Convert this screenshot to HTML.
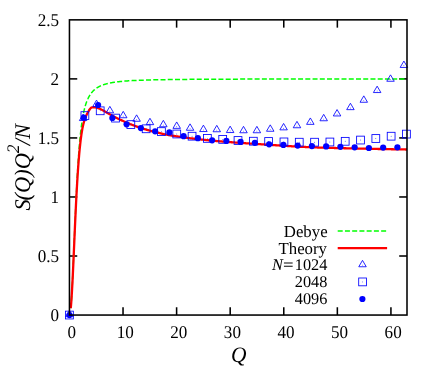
<!DOCTYPE html>
<html><head><meta charset="utf-8"><title>S(Q)Q^2/N</title>
<style>
html,body{margin:0;padding:0;background:#fff;}
body{width:436px;height:366px;position:relative;overflow:hidden;font-family:"Liberation Serif",serif;}
text{font-family:"Liberation Serif",serif;fill:#000;text-rendering:geometricPrecision;}
.w{font-size:16.8px !important;}
.tk{font-size:17.1px !important;}
.t16 text{font-size:16.3px;}
.t20 text{font-size:21.4px;font-style:italic;}
.sup{font-size:17.5px !important;}
.yl{font-size:22.4px !important;}
.it{font-style:italic;}
</style></head><body>
<svg width="436" height="366" viewBox="0 0 436 366" style="position:absolute;left:0;top:0;will-change:transform"><g stroke="#000" stroke-width="1.55" fill="none" stroke-linecap="butt"><path d="M123.03,315.05 V307.25"/><path d="M123.03,19.85 V27.650000000000002"/><path d="M176.61,315.05 V307.25"/><path d="M176.61,19.85 V27.650000000000002"/><path d="M230.19,315.05 V307.25"/><path d="M230.19,19.85 V27.650000000000002"/><path d="M283.77,315.05 V307.25"/><path d="M283.77,19.85 V27.650000000000002"/><path d="M337.35,315.05 V307.25"/><path d="M337.35,19.85 V27.650000000000002"/><path d="M390.93,315.05 V307.25"/><path d="M390.93,19.85 V27.650000000000002"/><path d="M69.45,256.01 H77.25"/><path d="M407.0,256.01 H399.2"/><path d="M69.45,196.97 H77.25"/><path d="M407.0,196.97 H399.2"/><path d="M69.45,137.93 H77.25"/><path d="M407.0,137.93 H399.2"/><path d="M69.45,78.89 H77.25"/><path d="M407.0,78.89 H399.2"/></g><path d="M70.76,308.10 L70.93,306.27 L71.10,304.24 L71.26,302.03 L71.43,299.63 L71.60,297.06 L71.76,294.33 L71.93,291.45 L72.10,288.43 L72.26,285.27 L72.43,281.99 L72.60,278.59 L72.77,275.10 L72.93,271.52 L73.10,267.85 L73.27,264.12 L73.43,260.33 L73.60,256.49 L73.77,252.62 L73.93,248.72 L74.10,244.80 L74.27,240.87 L74.43,236.94 L74.60,233.02 L74.77,229.11 L74.93,225.23 L75.10,221.38 L75.27,217.57 L75.44,213.81 L75.60,210.09 L75.77,206.43 L75.94,202.83 L76.10,199.29 L76.27,195.82 L76.44,192.42 L76.60,189.10 L76.77,185.85 L76.94,182.67 L77.10,179.58 L77.27,176.57 L77.44,173.64 L77.60,170.79 L77.77,168.02 L77.94,165.34 L78.11,162.73 L78.27,160.21 L78.44,157.77 L78.61,155.41 L78.77,153.12 L78.94,150.91 L79.11,148.77 L79.27,146.71 L79.44,144.72 L79.61,142.80 L79.77,140.95 L79.94,139.16 L80.11,137.44 L80.27,135.78 L80.44,134.17 L80.61,132.63 L80.77,131.14 L80.94,129.71 L81.11,128.33 L81.28,127.00 L81.44,125.72 L81.61,124.48 L81.78,123.29 L81.94,122.14 L82.11,121.03 L82.28,119.96 L82.44,118.93 L82.61,117.94 L82.78,116.98 L82.94,116.06 L83.11,115.16 L83.28,114.30 L83.44,113.47 L83.61,112.66 L83.78,111.89 L83.95,111.13 L84.11,110.41 L84.28,109.70 L84.45,109.03 L84.61,108.37 L84.78,107.73 L84.95,107.11 L85.11,106.52 L85.28,105.94 L85.45,105.38 L85.61,104.83 L85.78,104.31 L85.95,103.80 L86.11,103.30 L86.28,102.82 L86.45,102.35 L86.62,101.90 L86.78,101.46 L86.95,101.03 L87.12,100.61 L87.28,100.21 L87.45,99.81 L87.62,99.43 L87.78,99.06 L87.95,98.70 L88.12,98.35 L88.28,98.00 L88.45,97.67 L88.62,97.34 L88.78,97.03 L88.95,96.72 L89.12,96.42 L89.29,96.12 L89.45,95.84 L89.62,95.56 L89.79,95.28 L89.95,95.02 L90.12,94.76 L90.29,94.51 L90.45,94.26 L90.62,94.02 L90.79,93.78 L90.95,93.55 L91.12,93.33 L91.29,93.11 L91.45,92.89 L91.62,92.68 L91.79,92.48 L91.96,92.28 L92.12,92.08 L92.29,91.89 L92.46,91.70 L92.62,91.52 L92.79,91.34 L92.96,91.16 L93.12,90.99 L93.29,90.82 L93.46,90.65 L93.62,90.49 L93.79,90.33 L93.96,90.18 L94.12,90.03 L94.29,89.88 L94.46,89.73 L94.63,89.59 L94.79,89.45 L94.96,89.31 L95.13,89.17 L95.29,89.04 L95.46,88.91 L95.63,88.78 L95.79,88.66 L95.96,88.54 L96.13,88.42 L96.29,88.30 L96.46,88.18 L96.63,88.07 L96.79,87.96 L96.96,87.85 L97.13,87.74 L97.30,87.63 L97.46,87.53 L97.63,87.43 L97.80,87.33 L97.96,87.23 L98.13,87.13 L98.30,87.04 L98.46,86.94 L98.63,86.85 L98.80,86.76 L98.96,86.67 L99.13,86.59 L99.30,86.50 L99.46,86.42 L99.63,86.33 L99.80,86.25 L99.97,86.17 L100.13,86.09 L100.30,86.01 L100.47,85.94 L100.63,85.86 L100.80,85.79 L100.97,85.72 L101.13,85.64 L101.30,85.57 L101.47,85.50 L101.63,85.44 L101.80,85.37 L101.97,85.30 L102.13,85.24 L102.30,85.17 L102.47,85.11 L102.63,85.05 L102.80,84.98 L102.97,84.92 L103.14,84.86 L103.30,84.81 L103.47,84.75 L103.64,84.69 L103.80,84.63 L103.97,84.58 L104.14,84.52 L104.30,84.47 L104.47,84.42 L104.64,84.37 L104.80,84.31 L104.97,84.26 L105.14,84.21 L105.30,84.16 L105.47,84.11 L105.64,84.07 L105.81,84.02 L105.97,83.97 L106.14,83.93 L106.31,83.88 L106.47,83.84 L106.64,83.79 L106.81,83.75 L106.97,83.70 L107.14,83.66 L107.31,83.62 L107.47,83.58 L107.64,83.54 L107.81,83.50 L107.97,83.46 L108.14,83.42 L108.31,83.38 L108.48,83.34 L108.64,83.30 L108.81,83.27 L108.98,83.23 L109.14,83.19 L109.31,83.16 L109.48,83.12 L109.64,83.09 L109.81,83.05 L109.98,83.02 L110.14,82.98 L110.31,82.95 L110.48,82.92 L110.64,82.89 L110.81,82.85 L110.98,82.82 L111.15,82.79 L111.31,82.76 L111.48,82.73 L111.65,82.70 L111.81,82.67 L111.98,82.64 L112.15,82.61 L112.31,82.58 L112.81,82.50 L113.30,82.42 L113.79,82.34 L114.28,82.26 L114.77,82.19 L115.27,82.12 L115.76,82.05 L116.25,81.99 L116.74,81.92 L117.23,81.86 L117.73,81.80 L118.22,81.74 L118.71,81.68 L119.20,81.63 L119.69,81.58 L120.18,81.52 L120.68,81.47 L121.17,81.42 L121.66,81.38 L122.15,81.33 L122.64,81.29 L123.14,81.24 L123.63,81.20 L124.12,81.16 L124.61,81.12 L125.10,81.08 L125.60,81.04 L126.09,81.00 L126.58,80.97 L127.07,80.93 L127.56,80.90 L128.06,80.86 L128.55,80.83 L129.04,80.80 L129.53,80.77 L130.02,80.74 L130.52,80.71 L131.01,80.68 L131.50,80.65 L131.99,80.62 L132.48,80.60 L132.98,80.57 L133.47,80.54 L133.96,80.52 L134.45,80.49 L134.94,80.47 L135.44,80.45 L135.93,80.42 L136.42,80.40 L136.91,80.38 L137.40,80.36 L137.90,80.34 L138.39,80.32 L138.88,80.30 L139.37,80.28 L139.86,80.26 L140.36,80.24 L140.85,80.22 L141.34,80.20 L141.83,80.18 L142.32,80.17 L142.82,80.15 L143.31,80.13 L143.80,80.12 L144.29,80.10 L144.78,80.08 L145.28,80.07 L145.77,80.05 L146.26,80.04 L146.75,80.02 L147.24,80.01 L147.73,80.00 L148.23,79.98 L148.72,79.97 L149.21,79.96 L149.70,79.94 L150.19,79.93 L150.69,79.92 L151.18,79.90 L151.67,79.89 L152.16,79.88 L152.65,79.87 L153.15,79.86 L153.64,79.85 L154.13,79.84 L154.62,79.82 L155.11,79.81 L155.61,79.80 L156.10,79.79 L156.59,79.78 L157.08,79.77 L157.57,79.76 L158.07,79.75 L158.56,79.74 L159.05,79.73 L159.54,79.73 L160.03,79.72 L160.53,79.71 L161.02,79.70 L161.51,79.69 L162.00,79.68 L162.49,79.67 L162.99,79.66 L163.48,79.66 L163.97,79.65 L164.46,79.64 L164.95,79.63 L165.45,79.63 L165.94,79.62 L166.43,79.61 L166.92,79.60 L167.41,79.60 L167.91,79.59 L168.40,79.58 L168.89,79.58 L169.38,79.57 L169.87,79.56 L170.37,79.56 L170.86,79.55 L171.35,79.54 L171.84,79.54 L172.33,79.53 L172.83,79.52 L173.32,79.52 L173.81,79.51 L174.30,79.51 L174.79,79.50 L175.28,79.50 L175.78,79.49 L176.27,79.48 L176.76,79.48 L177.25,79.47 L177.74,79.47 L178.24,79.46 L178.73,79.46 L179.22,79.45 L179.71,79.45 L180.20,79.44 L180.70,79.44 L181.19,79.43 L181.68,79.43 L182.17,79.42 L182.66,79.42 L183.16,79.41 L183.65,79.41 L184.14,79.41 L184.63,79.40 L185.12,79.40 L185.62,79.39 L186.11,79.39 L186.60,79.38 L187.09,79.38 L187.58,79.38 L188.08,79.37 L188.57,79.37 L189.06,79.36 L189.55,79.36 L190.04,79.36 L190.54,79.35 L191.03,79.35 L191.52,79.34 L192.01,79.34 L192.50,79.34 L193.00,79.33 L193.49,79.33 L193.98,79.33 L194.47,79.32 L194.96,79.32 L195.46,79.32 L195.95,79.31 L196.44,79.31 L196.93,79.31 L197.42,79.30 L197.92,79.30 L198.41,79.30 L198.90,79.29 L199.39,79.29 L199.88,79.29 L200.38,79.29 L200.87,79.28 L201.36,79.28 L201.85,79.28 L202.34,79.27 L202.83,79.27 L203.33,79.27 L203.82,79.27 L204.31,79.26 L204.80,79.26 L205.29,79.26 L205.79,79.25 L206.28,79.25 L206.77,79.25 L207.26,79.25 L207.75,79.24 L208.25,79.24 L208.74,79.24 L209.23,79.24 L209.72,79.23 L210.21,79.23 L210.71,79.23 L211.20,79.23 L211.69,79.23 L212.18,79.22 L212.67,79.22 L213.17,79.22 L213.66,79.22 L214.15,79.21 L214.64,79.21 L215.13,79.21 L215.63,79.21 L216.12,79.21 L216.61,79.20 L217.10,79.20 L217.59,79.20 L218.09,79.20 L218.58,79.19 L219.07,79.19 L219.56,79.19 L220.05,79.19 L220.55,79.19 L221.04,79.19 L221.53,79.18 L222.02,79.18 L222.51,79.18 L223.01,79.18 L223.50,79.18 L223.99,79.17 L224.48,79.17 L224.97,79.17 L225.47,79.17 L225.96,79.17 L226.45,79.17 L226.94,79.16 L227.43,79.16 L227.93,79.16 L228.42,79.16 L228.91,79.16 L229.40,79.15 L229.89,79.15 L230.38,79.15 L230.88,79.15 L231.37,79.15 L231.86,79.15 L232.35,79.15 L232.84,79.14 L233.34,79.14 L233.83,79.14 L234.32,79.14 L234.81,79.14 L235.30,79.14 L235.80,79.14 L236.29,79.13 L236.78,79.13 L237.27,79.13 L237.76,79.13 L238.26,79.13 L238.75,79.13 L239.24,79.13 L239.73,79.12 L240.22,79.12 L240.72,79.12 L241.21,79.12 L241.70,79.12 L242.19,79.12 L242.68,79.12 L243.18,79.11 L243.67,79.11 L244.16,79.11 L244.65,79.11 L245.14,79.11 L245.64,79.11 L246.13,79.11 L246.62,79.11 L247.11,79.10 L247.60,79.10 L248.10,79.10 L248.59,79.10 L249.08,79.10 L249.57,79.10 L250.06,79.10 L250.56,79.10 L251.05,79.10 L251.54,79.09 L252.03,79.09 L252.52,79.09 L253.02,79.09 L253.51,79.09 L254.00,79.09 L254.49,79.09 L254.98,79.09 L255.48,79.09 L255.97,79.08 L256.46,79.08 L256.95,79.08 L257.44,79.08 L257.93,79.08 L258.43,79.08 L258.92,79.08 L259.41,79.08 L259.90,79.08 L260.39,79.08 L260.89,79.07 L261.38,79.07 L261.87,79.07 L262.36,79.07 L262.85,79.07 L263.35,79.07 L263.84,79.07 L264.33,79.07 L264.82,79.07 L265.31,79.07 L265.81,79.07 L266.30,79.06 L266.79,79.06 L267.28,79.06 L267.77,79.06 L268.27,79.06 L268.76,79.06 L269.25,79.06 L269.74,79.06 L270.23,79.06 L270.73,79.06 L271.22,79.06 L271.71,79.06 L272.20,79.05 L272.69,79.05 L273.19,79.05 L273.68,79.05 L274.17,79.05 L274.66,79.05 L275.15,79.05 L275.65,79.05 L276.14,79.05 L276.63,79.05 L277.12,79.05 L277.61,79.05 L278.11,79.05 L278.60,79.04 L279.09,79.04 L279.58,79.04 L280.07,79.04 L280.57,79.04 L281.06,79.04 L281.55,79.04 L282.04,79.04 L282.53,79.04 L283.03,79.04 L283.52,79.04 L284.01,79.04 L284.50,79.04 L284.99,79.04 L285.48,79.04 L285.98,79.03 L286.47,79.03 L286.96,79.03 L287.45,79.03 L287.94,79.03 L288.44,79.03 L288.93,79.03 L289.42,79.03 L289.91,79.03 L290.40,79.03 L290.90,79.03 L291.39,79.03 L291.88,79.03 L292.37,79.03 L292.86,79.03 L293.36,79.03 L293.85,79.02 L294.34,79.02 L294.83,79.02 L295.32,79.02 L295.82,79.02 L296.31,79.02 L296.80,79.02 L297.29,79.02 L297.78,79.02 L298.28,79.02 L298.77,79.02 L299.26,79.02 L299.75,79.02 L300.24,79.02 L300.74,79.02 L301.23,79.02 L301.72,79.02 L302.21,79.02 L302.70,79.01 L303.20,79.01 L303.69,79.01 L304.18,79.01 L304.67,79.01 L305.16,79.01 L305.66,79.01 L306.15,79.01 L306.64,79.01 L307.13,79.01 L307.62,79.01 L308.12,79.01 L308.61,79.01 L309.10,79.01 L309.59,79.01 L310.08,79.01 L310.58,79.01 L311.07,79.01 L311.56,79.01 L312.05,79.01 L312.54,79.00 L313.03,79.00 L313.53,79.00 L314.02,79.00 L314.51,79.00 L315.00,79.00 L315.49,79.00 L315.99,79.00 L316.48,79.00 L316.97,79.00 L317.46,79.00 L317.95,79.00 L318.45,79.00 L318.94,79.00 L319.43,79.00 L319.92,79.00 L320.41,79.00 L320.91,79.00 L321.40,79.00 L321.89,79.00 L322.38,79.00 L322.87,79.00 L323.37,79.00 L323.86,78.99 L324.35,78.99 L324.84,78.99 L325.33,78.99 L325.83,78.99 L326.32,78.99 L326.81,78.99 L327.30,78.99 L327.79,78.99 L328.29,78.99 L328.78,78.99 L329.27,78.99 L329.76,78.99 L330.25,78.99 L330.75,78.99 L331.24,78.99 L331.73,78.99 L332.22,78.99 L332.71,78.99 L333.21,78.99 L333.70,78.99 L334.19,78.99 L334.68,78.99 L335.17,78.99 L335.67,78.99 L336.16,78.99 L336.65,78.98 L337.14,78.98 L337.63,78.98 L338.13,78.98 L338.62,78.98 L339.11,78.98 L339.60,78.98 L340.09,78.98 L340.58,78.98 L341.08,78.98 L341.57,78.98 L342.06,78.98 L342.55,78.98 L343.04,78.98 L343.54,78.98 L344.03,78.98 L344.52,78.98 L345.01,78.98 L345.50,78.98 L346.00,78.98 L346.49,78.98 L346.98,78.98 L347.47,78.98 L347.96,78.98 L348.46,78.98 L348.95,78.98 L349.44,78.98 L349.93,78.98 L350.42,78.98 L350.92,78.98 L351.41,78.98 L351.90,78.97 L352.39,78.97 L352.88,78.97 L353.38,78.97 L353.87,78.97 L354.36,78.97 L354.85,78.97 L355.34,78.97 L355.84,78.97 L356.33,78.97 L356.82,78.97 L357.31,78.97 L357.80,78.97 L358.30,78.97 L358.79,78.97 L359.28,78.97 L359.77,78.97 L360.26,78.97 L360.76,78.97 L361.25,78.97 L361.74,78.97 L362.23,78.97 L362.72,78.97 L363.22,78.97 L363.71,78.97 L364.20,78.97 L364.69,78.97 L365.18,78.97 L365.68,78.97 L366.17,78.97 L366.66,78.97 L367.15,78.97 L367.64,78.97 L368.13,78.97 L368.63,78.97 L369.12,78.97 L369.61,78.97 L370.10,78.97 L370.59,78.96 L371.09,78.96 L371.58,78.96 L372.07,78.96 L372.56,78.96 L373.05,78.96 L373.55,78.96 L374.04,78.96 L374.53,78.96 L375.02,78.96 L375.51,78.96 L376.01,78.96 L376.50,78.96 L376.99,78.96 L377.48,78.96 L377.97,78.96 L378.47,78.96 L378.96,78.96 L379.45,78.96 L379.94,78.96 L380.43,78.96 L380.93,78.96 L381.42,78.96 L381.91,78.96 L382.40,78.96 L382.89,78.96 L383.39,78.96 L383.88,78.96 L384.37,78.96 L384.86,78.96 L385.35,78.96 L385.85,78.96 L386.34,78.96 L386.83,78.96 L387.32,78.96 L387.81,78.96 L388.31,78.96 L388.80,78.96 L389.29,78.96 L389.78,78.96 L390.27,78.96 L390.77,78.96 L391.26,78.96 L391.75,78.96 L392.24,78.96 L392.73,78.95 L393.23,78.95 L393.72,78.95 L394.21,78.95 L394.70,78.95 L395.19,78.95 L395.68,78.95 L396.18,78.95 L396.67,78.95 L397.16,78.95 L397.65,78.95 L398.14,78.95 L398.64,78.95 L399.13,78.95 L399.62,78.95 L400.11,78.95 L400.60,78.95 L401.10,78.95 L401.59,78.95 L402.08,78.95 L402.57,78.95 L403.06,78.95 L403.56,78.95 L404.05,78.95 L404.54,78.95 L405.03,78.95 L405.52,78.95 L406.02,78.95 L406.51,78.95 L407.00,78.95" fill="none" stroke="#00ff00" stroke-width="1.5" stroke-dasharray="5 2.24"/><path d="M70.76,308.24 L70.93,306.44 L71.10,304.45 L71.26,302.28 L71.43,299.93 L71.60,297.41 L71.76,294.73 L71.93,291.91 L72.10,288.94 L72.26,285.84 L72.43,282.62 L72.60,279.30 L72.77,275.87 L72.93,272.36 L73.10,268.77 L73.27,265.12 L73.43,261.40 L73.60,257.64 L73.77,253.85 L73.93,250.03 L74.10,246.19 L74.27,242.35 L74.43,238.51 L74.60,234.68 L74.77,230.86 L74.93,227.08 L75.10,223.35 L75.27,219.68 L75.44,216.06 L75.60,212.52 L75.77,209.04 L75.94,205.63 L76.10,202.29 L76.27,199.03 L76.44,195.85 L76.60,192.74 L76.77,189.70 L76.94,186.74 L77.10,183.86 L77.27,181.05 L77.44,178.31 L77.60,175.64 L77.77,173.06 L77.94,170.57 L78.11,168.16 L78.27,165.83 L78.44,163.58 L78.61,161.41 L78.77,159.32 L78.94,157.30 L79.11,155.35 L79.27,153.47 L79.44,151.67 L79.61,149.92 L79.77,148.24 L79.94,146.62 L80.11,145.06 L80.27,143.55 L80.44,142.09 L80.61,140.69 L80.77,139.34 L80.94,138.04 L81.11,136.79 L81.28,135.58 L81.44,134.42 L81.61,133.31 L81.78,132.24 L81.94,131.22 L82.11,130.24 L82.28,129.30 L82.44,128.40 L82.61,127.54 L82.78,126.72 L82.94,125.94 L83.11,125.21 L83.28,124.51 L83.44,123.84 L83.61,123.21 L83.78,122.60 L83.95,122.02 L84.11,121.46 L84.28,120.92 L84.45,120.40 L84.61,119.89 L84.78,119.38 L84.95,118.89 L85.11,118.42 L85.28,117.96 L85.45,117.51 L85.61,117.08 L85.78,116.67 L85.95,116.26 L86.11,115.87 L86.28,115.48 L86.45,115.11 L86.62,114.75 L86.78,114.40 L86.95,114.05 L87.12,113.71 L87.28,113.38 L87.45,113.06 L87.62,112.75 L87.78,112.44 L87.95,112.14 L88.12,111.85 L88.28,111.56 L88.45,111.29 L88.62,111.02 L88.78,110.75 L88.95,110.50 L89.12,110.25 L89.29,110.00 L89.45,109.76 L89.62,109.52 L89.79,109.28 L89.95,109.06 L90.12,108.84 L90.29,108.63 L90.45,108.43 L90.62,108.24 L90.79,108.06 L90.95,107.90 L91.12,107.77 L91.29,107.66 L91.45,107.58 L91.62,107.51 L91.79,107.46 L91.96,107.42 L92.12,107.39 L92.29,107.37 L92.46,107.35 L92.62,107.34 L92.79,107.32 L92.96,107.31 L93.12,107.29 L93.29,107.27 L93.46,107.26 L93.62,107.26 L93.79,107.26 L93.96,107.26 L94.12,107.27 L94.29,107.28 L94.46,107.29 L94.63,107.31 L94.79,107.33 L94.96,107.35 L95.13,107.37 L95.29,107.40 L95.46,107.43 L95.63,107.45 L95.79,107.49 L95.96,107.52 L96.13,107.56 L96.29,107.59 L96.46,107.64 L96.63,107.68 L96.79,107.72 L96.96,107.77 L97.13,107.82 L97.30,107.87 L97.46,107.92 L97.63,107.97 L97.80,108.03 L97.96,108.09 L98.13,108.14 L98.30,108.20 L98.46,108.27 L98.63,108.33 L98.80,108.39 L98.96,108.46 L99.13,108.53 L99.30,108.60 L99.46,108.67 L99.63,108.74 L99.80,108.81 L99.97,108.88 L100.13,108.96 L100.30,109.03 L100.47,109.11 L100.63,109.18 L100.80,109.26 L100.97,109.34 L101.13,109.42 L101.30,109.50 L101.47,109.58 L101.63,109.67 L101.80,109.75 L101.97,109.84 L102.13,109.92 L102.30,110.01 L102.47,110.10 L102.63,110.19 L102.80,110.28 L102.97,110.37 L103.14,110.46 L103.30,110.56 L103.47,110.65 L103.64,110.74 L103.80,110.84 L103.97,110.94 L104.14,111.03 L104.30,111.13 L104.47,111.23 L104.64,111.32 L104.80,111.42 L104.97,111.52 L105.14,111.62 L105.30,111.72 L105.47,111.82 L105.64,111.92 L105.81,112.01 L105.97,112.11 L106.14,112.21 L106.31,112.31 L106.47,112.41 L106.64,112.50 L106.81,112.60 L106.97,112.70 L107.14,112.80 L107.31,112.89 L107.47,112.99 L107.64,113.08 L107.81,113.18 L107.97,113.27 L108.14,113.36 L108.31,113.46 L108.48,113.55 L108.64,113.64 L108.81,113.74 L108.98,113.83 L109.14,113.93 L109.31,114.02 L109.48,114.11 L109.64,114.20 L109.81,114.30 L109.98,114.39 L110.14,114.48 L110.31,114.58 L110.48,114.67 L110.64,114.76 L110.81,114.85 L110.98,114.95 L111.15,115.04 L111.31,115.13 L111.48,115.22 L111.65,115.31 L111.81,115.40 L111.98,115.49 L112.15,115.59 L112.31,115.68 L112.81,115.94 L113.30,116.20 L113.79,116.47 L114.28,116.73 L114.77,116.98 L115.27,117.24 L115.76,117.49 L116.25,117.74 L116.74,117.99 L117.23,118.24 L117.73,118.49 L118.22,118.73 L118.71,118.97 L119.20,119.21 L119.69,119.45 L120.18,119.68 L120.68,119.92 L121.17,120.15 L121.66,120.37 L122.15,120.60 L122.64,120.82 L123.14,121.04 L123.63,121.26 L124.12,121.48 L124.61,121.69 L125.10,121.91 L125.60,122.12 L126.09,122.34 L126.58,122.55 L127.07,122.76 L127.56,122.97 L128.06,123.18 L128.55,123.39 L129.04,123.59 L129.53,123.79 L130.02,124.00 L130.52,124.20 L131.01,124.39 L131.50,124.59 L131.99,124.78 L132.48,124.98 L132.98,125.17 L133.47,125.35 L133.96,125.54 L134.45,125.72 L134.94,125.91 L135.44,126.09 L135.93,126.26 L136.42,126.44 L136.91,126.62 L137.40,126.79 L137.90,126.96 L138.39,127.13 L138.88,127.30 L139.37,127.47 L139.86,127.63 L140.36,127.80 L140.85,127.96 L141.34,128.12 L141.83,128.28 L142.32,128.44 L142.82,128.60 L143.31,128.75 L143.80,128.91 L144.29,129.06 L144.78,129.21 L145.28,129.36 L145.77,129.51 L146.26,129.65 L146.75,129.80 L147.24,129.94 L147.73,130.08 L148.23,130.22 L148.72,130.36 L149.21,130.49 L149.70,130.63 L150.19,130.76 L150.69,130.89 L151.18,131.02 L151.67,131.15 L152.16,131.27 L152.65,131.40 L153.15,131.52 L153.64,131.64 L154.13,131.77 L154.62,131.89 L155.11,132.01 L155.61,132.13 L156.10,132.25 L156.59,132.37 L157.08,132.49 L157.57,132.61 L158.07,132.73 L158.56,132.85 L159.05,132.97 L159.54,133.09 L160.03,133.21 L160.53,133.33 L161.02,133.46 L161.51,133.59 L162.00,133.71 L162.49,133.84 L162.99,133.96 L163.48,134.08 L163.97,134.19 L164.46,134.30 L164.95,134.39 L165.45,134.48 L165.94,134.57 L166.43,134.66 L166.92,134.74 L167.41,134.83 L167.91,134.92 L168.40,135.00 L168.89,135.09 L169.38,135.17 L169.87,135.25 L170.37,135.34 L170.86,135.42 L171.35,135.50 L171.84,135.58 L172.33,135.66 L172.83,135.74 L173.32,135.82 L173.81,135.90 L174.30,135.98 L174.79,136.06 L175.28,136.13 L175.78,136.21 L176.27,136.29 L176.76,136.36 L177.25,136.44 L177.74,136.51 L178.24,136.59 L178.73,136.66 L179.22,136.73 L179.71,136.80 L180.20,136.88 L180.70,136.95 L181.19,137.02 L181.68,137.09 L182.17,137.16 L182.66,137.23 L183.16,137.30 L183.65,137.36 L184.14,137.43 L184.63,137.50 L185.12,137.57 L185.62,137.63 L186.11,137.70 L186.60,137.76 L187.09,137.83 L187.58,137.89 L188.08,137.96 L188.57,138.02 L189.06,138.08 L189.55,138.14 L190.04,138.21 L190.54,138.27 L191.03,138.33 L191.52,138.39 L192.01,138.45 L192.50,138.51 L193.00,138.57 L193.49,138.63 L193.98,138.69 L194.47,138.75 L194.96,138.80 L195.46,138.86 L195.95,138.92 L196.44,138.98 L196.93,139.03 L197.42,139.09 L197.92,139.14 L198.41,139.20 L198.90,139.25 L199.39,139.31 L199.88,139.36 L200.38,139.42 L200.87,139.47 L201.36,139.52 L201.85,139.58 L202.34,139.63 L202.83,139.68 L203.33,139.73 L203.82,139.79 L204.31,139.84 L204.80,139.89 L205.29,139.94 L205.79,139.99 L206.28,140.04 L206.77,140.09 L207.26,140.14 L207.75,140.19 L208.25,140.24 L208.74,140.29 L209.23,140.33 L209.72,140.38 L210.21,140.43 L210.71,140.48 L211.20,140.53 L211.69,140.57 L212.18,140.62 L212.67,140.67 L213.17,140.71 L213.66,140.76 L214.15,140.80 L214.64,140.85 L215.13,140.90 L215.63,140.94 L216.12,140.99 L216.61,141.03 L217.10,141.07 L217.59,141.12 L218.09,141.16 L218.58,141.20 L219.07,141.25 L219.56,141.29 L220.05,141.33 L220.55,141.37 L221.04,141.42 L221.53,141.46 L222.02,141.50 L222.51,141.54 L223.01,141.58 L223.50,141.62 L223.99,141.66 L224.48,141.70 L224.97,141.74 L225.47,141.78 L225.96,141.82 L226.45,141.86 L226.94,141.90 L227.43,141.94 L227.93,141.97 L228.42,142.01 L228.91,142.05 L229.40,142.09 L229.89,142.13 L230.38,142.16 L230.88,142.20 L231.37,142.24 L231.86,142.27 L232.35,142.31 L232.84,142.35 L233.34,142.38 L233.83,142.42 L234.32,142.46 L234.81,142.49 L235.30,142.53 L235.80,142.56 L236.29,142.60 L236.78,142.63 L237.27,142.67 L237.76,142.70 L238.26,142.74 L238.75,142.77 L239.24,142.81 L239.73,142.84 L240.22,142.87 L240.72,142.91 L241.21,142.94 L241.70,142.98 L242.19,143.01 L242.68,143.04 L243.18,143.08 L243.67,143.11 L244.16,143.14 L244.65,143.18 L245.14,143.21 L245.64,143.24 L246.13,143.28 L246.62,143.31 L247.11,143.34 L247.60,143.37 L248.10,143.41 L248.59,143.44 L249.08,143.47 L249.57,143.50 L250.06,143.54 L250.56,143.57 L251.05,143.60 L251.54,143.63 L252.03,143.67 L252.52,143.70 L253.02,143.73 L253.51,143.76 L254.00,143.79 L254.49,143.83 L254.98,143.86 L255.48,143.89 L255.97,143.92 L256.46,143.95 L256.95,143.99 L257.44,144.02 L257.93,144.05 L258.43,144.08 L258.92,144.12 L259.41,144.15 L259.90,144.18 L260.39,144.21 L260.89,144.24 L261.38,144.28 L261.87,144.31 L262.36,144.34 L262.85,144.37 L263.35,144.41 L263.84,144.44 L264.33,144.47 L264.82,144.50 L265.31,144.54 L265.81,144.57 L266.30,144.60 L266.79,144.63 L267.28,144.67 L267.77,144.70 L268.27,144.73 L268.76,144.77 L269.25,144.80 L269.74,144.83 L270.23,144.87 L270.73,144.90 L271.22,144.93 L271.71,144.97 L272.20,145.00 L272.69,145.03 L273.19,145.07 L273.68,145.10 L274.17,145.13 L274.66,145.16 L275.15,145.20 L275.65,145.23 L276.14,145.26 L276.63,145.30 L277.12,145.33 L277.61,145.36 L278.11,145.40 L278.60,145.43 L279.09,145.46 L279.58,145.49 L280.07,145.53 L280.57,145.56 L281.06,145.59 L281.55,145.62 L282.04,145.66 L282.53,145.69 L283.03,145.72 L283.52,145.75 L284.01,145.78 L284.50,145.82 L284.99,145.85 L285.48,145.88 L285.98,145.91 L286.47,145.94 L286.96,145.97 L287.45,146.00 L287.94,146.03 L288.44,146.06 L288.93,146.10 L289.42,146.13 L289.91,146.16 L290.40,146.19 L290.90,146.22 L291.39,146.25 L291.88,146.28 L292.37,146.30 L292.86,146.33 L293.36,146.36 L293.85,146.39 L294.34,146.42 L294.83,146.45 L295.32,146.48 L295.82,146.51 L296.31,146.53 L296.80,146.56 L297.29,146.59 L297.78,146.61 L298.28,146.64 L298.77,146.67 L299.26,146.69 L299.75,146.72 L300.24,146.75 L300.74,146.77 L301.23,146.80 L301.72,146.82 L302.21,146.85 L302.70,146.87 L303.20,146.90 L303.69,146.92 L304.18,146.95 L304.67,146.97 L305.16,146.99 L305.66,147.01 L306.15,147.04 L306.64,147.06 L307.13,147.08 L307.62,147.10 L308.12,147.12 L308.61,147.15 L309.10,147.17 L309.59,147.19 L310.08,147.21 L310.58,147.23 L311.07,147.25 L311.56,147.26 L312.05,147.28 L312.54,147.30 L313.03,147.32 L313.53,147.34 L314.02,147.36 L314.51,147.37 L315.00,147.39 L315.49,147.41 L315.99,147.42 L316.48,147.44 L316.97,147.46 L317.46,147.48 L317.95,147.49 L318.45,147.51 L318.94,147.53 L319.43,147.54 L319.92,147.56 L320.41,147.57 L320.91,147.59 L321.40,147.61 L321.89,147.62 L322.38,147.64 L322.87,147.65 L323.37,147.67 L323.86,147.68 L324.35,147.70 L324.84,147.71 L325.33,147.73 L325.83,147.74 L326.32,147.76 L326.81,147.77 L327.30,147.79 L327.79,147.80 L328.29,147.81 L328.78,147.83 L329.27,147.84 L329.76,147.86 L330.25,147.87 L330.75,147.88 L331.24,147.90 L331.73,147.91 L332.22,147.93 L332.71,147.94 L333.21,147.95 L333.70,147.97 L334.19,147.98 L334.68,147.99 L335.17,148.00 L335.67,148.02 L336.16,148.03 L336.65,148.04 L337.14,148.06 L337.63,148.07 L338.13,148.08 L338.62,148.09 L339.11,148.11 L339.60,148.12 L340.09,148.13 L340.58,148.14 L341.08,148.15 L341.57,148.17 L342.06,148.18 L342.55,148.19 L343.04,148.20 L343.54,148.21 L344.03,148.23 L344.52,148.24 L345.01,148.25 L345.50,148.26 L346.00,148.27 L346.49,148.28 L346.98,148.30 L347.47,148.31 L347.96,148.32 L348.46,148.33 L348.95,148.34 L349.44,148.35 L349.93,148.36 L350.42,148.38 L350.92,148.39 L351.41,148.40 L351.90,148.41 L352.39,148.42 L352.88,148.43 L353.38,148.44 L353.87,148.45 L354.36,148.46 L354.85,148.48 L355.34,148.49 L355.84,148.50 L356.33,148.51 L356.82,148.52 L357.31,148.53 L357.80,148.54 L358.30,148.55 L358.79,148.56 L359.28,148.57 L359.77,148.58 L360.26,148.60 L360.76,148.61 L361.25,148.62 L361.74,148.63 L362.23,148.64 L362.72,148.65 L363.22,148.66 L363.71,148.67 L364.20,148.68 L364.69,148.69 L365.18,148.70 L365.68,148.71 L366.17,148.73 L366.66,148.74 L367.15,148.75 L367.64,148.76 L368.13,148.77 L368.63,148.78 L369.12,148.79 L369.61,148.80 L370.10,148.81 L370.59,148.82 L371.09,148.83 L371.58,148.84 L372.07,148.85 L372.56,148.86 L373.05,148.87 L373.55,148.88 L374.04,148.89 L374.53,148.90 L375.02,148.91 L375.51,148.93 L376.01,148.94 L376.50,148.95 L376.99,148.96 L377.48,148.97 L377.97,148.98 L378.47,148.99 L378.96,149.00 L379.45,149.01 L379.94,149.02 L380.43,149.03 L380.93,149.03 L381.42,149.04 L381.91,149.05 L382.40,149.06 L382.89,149.07 L383.39,149.08 L383.88,149.09 L384.37,149.10 L384.86,149.11 L385.35,149.12 L385.85,149.13 L386.34,149.14 L386.83,149.15 L387.32,149.16 L387.81,149.17 L388.31,149.18 L388.80,149.19 L389.29,149.20 L389.78,149.21 L390.27,149.21 L390.77,149.22 L391.26,149.23 L391.75,149.24 L392.24,149.25 L392.73,149.26 L393.23,149.27 L393.72,149.28 L394.21,149.29 L394.70,149.29 L395.19,149.30 L395.68,149.31 L396.18,149.32 L396.67,149.33 L397.16,149.34 L397.65,149.35 L398.14,149.35 L398.64,149.36 L399.13,149.37 L399.62,149.38 L400.11,149.39 L400.60,149.40 L401.10,149.40 L401.59,149.41 L402.08,149.42 L402.57,149.43 L403.06,149.44 L403.56,149.45 L404.05,149.45 L404.54,149.46 L405.03,149.47 L405.52,149.48 L406.02,149.48 L406.51,149.49 L407.00,149.50" fill="none" stroke="#ff0000" stroke-width="2.3" stroke-linejoin="round"/><path d="M69.45,310.30 L65.70,316.70 L73.20,316.70 Z" fill="none" stroke="#0000ff" stroke-width="0.85" stroke-linejoin="miter"/><circle cx="69.45" cy="315.05" r="0.45" fill="#0000ff"/><path d="M83.14,114.15 L79.39,120.55 L86.89,120.55 Z" fill="none" stroke="#0000ff" stroke-width="0.85" stroke-linejoin="miter"/><circle cx="83.14" cy="118.90" r="0.45" fill="#0000ff"/><path d="M96.51,100.15 L92.76,106.55 L100.26,106.55 Z" fill="none" stroke="#0000ff" stroke-width="0.85" stroke-linejoin="miter"/><circle cx="96.51" cy="104.90" r="0.45" fill="#0000ff"/><path d="M109.87,106.35 L106.12,112.75 L113.62,112.75 Z" fill="none" stroke="#0000ff" stroke-width="0.85" stroke-linejoin="miter"/><circle cx="109.87" cy="111.10" r="0.45" fill="#0000ff"/><path d="M123.23,111.35 L119.48,117.75 L126.98,117.75 Z" fill="none" stroke="#0000ff" stroke-width="0.85" stroke-linejoin="miter"/><circle cx="123.23" cy="116.10" r="0.45" fill="#0000ff"/><path d="M136.60,114.85 L132.85,121.25 L140.35,121.25 Z" fill="none" stroke="#0000ff" stroke-width="0.85" stroke-linejoin="miter"/><circle cx="136.60" cy="119.60" r="0.45" fill="#0000ff"/><path d="M149.96,118.25 L146.21,124.65 L153.71,124.65 Z" fill="none" stroke="#0000ff" stroke-width="0.85" stroke-linejoin="miter"/><circle cx="149.96" cy="123.00" r="0.45" fill="#0000ff"/><path d="M163.33,120.35 L159.58,126.75 L167.08,126.75 Z" fill="none" stroke="#0000ff" stroke-width="0.85" stroke-linejoin="miter"/><circle cx="163.33" cy="125.10" r="0.45" fill="#0000ff"/><path d="M176.69,121.95 L172.94,128.35 L180.44,128.35 Z" fill="none" stroke="#0000ff" stroke-width="0.85" stroke-linejoin="miter"/><circle cx="176.69" cy="126.70" r="0.45" fill="#0000ff"/><path d="M190.06,123.85 L186.31,130.25 L193.81,130.25 Z" fill="none" stroke="#0000ff" stroke-width="0.85" stroke-linejoin="miter"/><circle cx="190.06" cy="128.60" r="0.45" fill="#0000ff"/><path d="M203.42,125.15 L199.67,131.55 L207.17,131.55 Z" fill="none" stroke="#0000ff" stroke-width="0.85" stroke-linejoin="miter"/><circle cx="203.42" cy="129.90" r="0.45" fill="#0000ff"/><path d="M216.78,125.35 L213.03,131.75 L220.53,131.75 Z" fill="none" stroke="#0000ff" stroke-width="0.85" stroke-linejoin="miter"/><circle cx="216.78" cy="130.10" r="0.45" fill="#0000ff"/><path d="M230.15,126.15 L226.40,132.55 L233.90,132.55 Z" fill="none" stroke="#0000ff" stroke-width="0.85" stroke-linejoin="miter"/><circle cx="230.15" cy="130.90" r="0.45" fill="#0000ff"/><path d="M243.51,126.35 L239.76,132.75 L247.26,132.75 Z" fill="none" stroke="#0000ff" stroke-width="0.85" stroke-linejoin="miter"/><circle cx="243.51" cy="131.10" r="0.45" fill="#0000ff"/><path d="M256.88,126.35 L253.13,132.75 L260.63,132.75 Z" fill="none" stroke="#0000ff" stroke-width="0.85" stroke-linejoin="miter"/><circle cx="256.88" cy="131.10" r="0.45" fill="#0000ff"/><path d="M270.24,124.85 L266.49,131.25 L273.99,131.25 Z" fill="none" stroke="#0000ff" stroke-width="0.85" stroke-linejoin="miter"/><circle cx="270.24" cy="129.60" r="0.45" fill="#0000ff"/><path d="M283.60,123.45 L279.85,129.85 L287.35,129.85 Z" fill="none" stroke="#0000ff" stroke-width="0.85" stroke-linejoin="miter"/><circle cx="283.60" cy="128.20" r="0.45" fill="#0000ff"/><path d="M296.97,121.35 L293.22,127.75 L300.72,127.75 Z" fill="none" stroke="#0000ff" stroke-width="0.85" stroke-linejoin="miter"/><circle cx="296.97" cy="126.10" r="0.45" fill="#0000ff"/><path d="M310.33,117.95 L306.58,124.35 L314.08,124.35 Z" fill="none" stroke="#0000ff" stroke-width="0.85" stroke-linejoin="miter"/><circle cx="310.33" cy="122.70" r="0.45" fill="#0000ff"/><path d="M323.70,114.35 L319.95,120.75 L327.45,120.75 Z" fill="none" stroke="#0000ff" stroke-width="0.85" stroke-linejoin="miter"/><circle cx="323.70" cy="119.10" r="0.45" fill="#0000ff"/><path d="M337.06,109.55 L333.31,115.95 L340.81,115.95 Z" fill="none" stroke="#0000ff" stroke-width="0.85" stroke-linejoin="miter"/><circle cx="337.06" cy="114.30" r="0.45" fill="#0000ff"/><path d="M350.43,103.25 L346.68,109.65 L354.18,109.65 Z" fill="none" stroke="#0000ff" stroke-width="0.85" stroke-linejoin="miter"/><circle cx="350.43" cy="108.00" r="0.45" fill="#0000ff"/><path d="M363.79,95.85 L360.04,102.25 L367.54,102.25 Z" fill="none" stroke="#0000ff" stroke-width="0.85" stroke-linejoin="miter"/><circle cx="363.79" cy="100.60" r="0.45" fill="#0000ff"/><path d="M377.15,86.15 L373.40,92.55 L380.90,92.55 Z" fill="none" stroke="#0000ff" stroke-width="0.85" stroke-linejoin="miter"/><circle cx="377.15" cy="90.90" r="0.45" fill="#0000ff"/><path d="M390.52,74.85 L386.77,81.25 L394.27,81.25 Z" fill="none" stroke="#0000ff" stroke-width="0.85" stroke-linejoin="miter"/><circle cx="390.52" cy="79.60" r="0.45" fill="#0000ff"/><path d="M403.88,61.05 L400.13,67.45 L407.63,67.45 Z" fill="none" stroke="#0000ff" stroke-width="0.85" stroke-linejoin="miter"/><circle cx="403.88" cy="65.80" r="0.45" fill="#0000ff"/><rect x="65.55" y="311.15" width="7.80" height="7.80" fill="none" stroke="#0000ff" stroke-width="0.85"/><circle cx="69.45" cy="315.05" r="0.45" fill="#0000ff"/><rect x="80.99" y="111.70" width="7.80" height="7.80" fill="none" stroke="#0000ff" stroke-width="0.85"/><circle cx="84.89" cy="115.60" r="0.45" fill="#0000ff"/><rect x="96.30" y="106.90" width="7.80" height="7.80" fill="none" stroke="#0000ff" stroke-width="0.85"/><circle cx="100.20" cy="110.80" r="0.45" fill="#0000ff"/><rect x="111.61" y="114.20" width="7.80" height="7.80" fill="none" stroke="#0000ff" stroke-width="0.85"/><circle cx="115.51" cy="118.10" r="0.45" fill="#0000ff"/><rect x="126.93" y="120.70" width="7.80" height="7.80" fill="none" stroke="#0000ff" stroke-width="0.85"/><circle cx="130.83" cy="124.60" r="0.45" fill="#0000ff"/><rect x="142.24" y="124.90" width="7.80" height="7.80" fill="none" stroke="#0000ff" stroke-width="0.85"/><circle cx="146.14" cy="128.80" r="0.45" fill="#0000ff"/><rect x="157.55" y="127.70" width="7.80" height="7.80" fill="none" stroke="#0000ff" stroke-width="0.85"/><circle cx="161.45" cy="131.60" r="0.45" fill="#0000ff"/><rect x="172.86" y="130.10" width="7.80" height="7.80" fill="none" stroke="#0000ff" stroke-width="0.85"/><circle cx="176.76" cy="134.00" r="0.45" fill="#0000ff"/><rect x="188.17" y="132.30" width="7.80" height="7.80" fill="none" stroke="#0000ff" stroke-width="0.85"/><circle cx="192.07" cy="136.20" r="0.45" fill="#0000ff"/><rect x="203.49" y="134.50" width="7.80" height="7.80" fill="none" stroke="#0000ff" stroke-width="0.85"/><circle cx="207.39" cy="138.40" r="0.45" fill="#0000ff"/><rect x="218.80" y="135.50" width="7.80" height="7.80" fill="none" stroke="#0000ff" stroke-width="0.85"/><circle cx="222.70" cy="139.40" r="0.45" fill="#0000ff"/><rect x="234.11" y="136.60" width="7.80" height="7.80" fill="none" stroke="#0000ff" stroke-width="0.85"/><circle cx="238.01" cy="140.50" r="0.45" fill="#0000ff"/><rect x="249.42" y="137.30" width="7.80" height="7.80" fill="none" stroke="#0000ff" stroke-width="0.85"/><circle cx="253.32" cy="141.20" r="0.45" fill="#0000ff"/><rect x="264.74" y="137.60" width="7.80" height="7.80" fill="none" stroke="#0000ff" stroke-width="0.85"/><circle cx="268.64" cy="141.50" r="0.45" fill="#0000ff"/><rect x="280.05" y="138.00" width="7.80" height="7.80" fill="none" stroke="#0000ff" stroke-width="0.85"/><circle cx="283.95" cy="141.90" r="0.45" fill="#0000ff"/><rect x="295.36" y="138.30" width="7.80" height="7.80" fill="none" stroke="#0000ff" stroke-width="0.85"/><circle cx="299.26" cy="142.20" r="0.45" fill="#0000ff"/><rect x="310.67" y="138.30" width="7.80" height="7.80" fill="none" stroke="#0000ff" stroke-width="0.85"/><circle cx="314.57" cy="142.20" r="0.45" fill="#0000ff"/><rect x="325.99" y="138.10" width="7.80" height="7.80" fill="none" stroke="#0000ff" stroke-width="0.85"/><circle cx="329.89" cy="142.00" r="0.45" fill="#0000ff"/><rect x="341.30" y="137.40" width="7.80" height="7.80" fill="none" stroke="#0000ff" stroke-width="0.85"/><circle cx="345.20" cy="141.30" r="0.45" fill="#0000ff"/><rect x="356.61" y="136.15" width="7.80" height="7.80" fill="none" stroke="#0000ff" stroke-width="0.85"/><circle cx="360.51" cy="140.05" r="0.45" fill="#0000ff"/><rect x="371.92" y="134.60" width="7.80" height="7.80" fill="none" stroke="#0000ff" stroke-width="0.85"/><circle cx="375.82" cy="138.50" r="0.45" fill="#0000ff"/><rect x="387.24" y="132.30" width="7.80" height="7.80" fill="none" stroke="#0000ff" stroke-width="0.85"/><circle cx="391.14" cy="136.20" r="0.45" fill="#0000ff"/><rect x="402.55" y="130.20" width="7.80" height="7.80" fill="none" stroke="#0000ff" stroke-width="0.85"/><circle cx="406.45" cy="134.10" r="0.45" fill="#0000ff"/><circle cx="69.45" cy="315.05" r="3.1" fill="#0000ff"/><circle cx="83.85" cy="117.50" r="3.1" fill="#0000ff"/><circle cx="98.10" cy="105.00" r="3.1" fill="#0000ff"/><circle cx="112.35" cy="118.00" r="3.1" fill="#0000ff"/><circle cx="126.60" cy="124.30" r="3.1" fill="#0000ff"/><circle cx="140.86" cy="128.10" r="3.1" fill="#0000ff"/><circle cx="155.11" cy="131.30" r="3.1" fill="#0000ff"/><circle cx="169.36" cy="132.40" r="3.1" fill="#0000ff"/><circle cx="183.61" cy="136.20" r="3.1" fill="#0000ff"/><circle cx="197.87" cy="138.20" r="3.1" fill="#0000ff"/><circle cx="212.12" cy="140.30" r="3.1" fill="#0000ff"/><circle cx="226.37" cy="140.90" r="3.1" fill="#0000ff"/><circle cx="240.62" cy="141.90" r="3.1" fill="#0000ff"/><circle cx="254.87" cy="142.80" r="3.1" fill="#0000ff"/><circle cx="269.13" cy="144.30" r="3.1" fill="#0000ff"/><circle cx="283.38" cy="144.90" r="3.1" fill="#0000ff"/><circle cx="297.63" cy="145.60" r="3.1" fill="#0000ff"/><circle cx="311.88" cy="146.10" r="3.1" fill="#0000ff"/><circle cx="326.13" cy="146.40" r="3.1" fill="#0000ff"/><circle cx="340.39" cy="146.80" r="3.1" fill="#0000ff"/><circle cx="354.64" cy="147.30" r="3.1" fill="#0000ff"/><circle cx="368.89" cy="148.00" r="3.1" fill="#0000ff"/><circle cx="383.14" cy="147.60" r="3.1" fill="#0000ff"/><circle cx="397.40" cy="147.30" r="3.1" fill="#0000ff"/><rect x="69.45" y="19.85" width="337.55" height="295.2" stroke="#000" stroke-width="1.55" fill="none"/><path d="M337.7,231.1 H387.1" stroke="#00ff00" stroke-width="1.5" stroke-dasharray="5 2.24" fill="none"/><path d="M337.7,248.1 H387.1" stroke="#ff0000" stroke-width="2.3" fill="none"/><path d="M362.50,260.35 L358.75,266.75 L366.25,266.75 Z" fill="none" stroke="#0000ff" stroke-width="0.85" stroke-linejoin="miter"/><circle cx="362.50" cy="265.10" r="0.45" fill="#0000ff"/><rect x="358.70" y="278.00" width="7.80" height="7.80" fill="none" stroke="#0000ff" stroke-width="0.85"/><circle cx="362.60" cy="281.90" r="0.45" fill="#0000ff"/><circle cx="362.40" cy="299.00" r="3.1" fill="#0000ff"/><g class="t16"><text class="tk" transform="translate(71.65,338.3) scale(1,1.05)" text-anchor="middle">0</text><text class="tk" transform="translate(125.23,338.3) scale(1,1.05)" text-anchor="middle">10</text><text class="tk" transform="translate(178.81,338.3) scale(1,1.05)" text-anchor="middle">20</text><text class="tk" transform="translate(232.39,338.3) scale(1,1.05)" text-anchor="middle">30</text><text class="tk" transform="translate(285.97,338.3) scale(1,1.05)" text-anchor="middle">40</text><text class="tk" transform="translate(339.55,338.3) scale(1,1.05)" text-anchor="middle">50</text><text class="tk" transform="translate(393.13,338.3) scale(1,1.05)" text-anchor="middle">60</text><text class="tk" transform="translate(59.0,321.05) scale(1,1.05)" text-anchor="end">0</text><text class="tk" transform="translate(59.0,262.01) scale(1,1.05)" text-anchor="end">0.5</text><text class="tk" transform="translate(59.0,202.97) scale(1,1.05)" text-anchor="end">1</text><text class="tk" transform="translate(59.0,143.93) scale(1,1.05)" text-anchor="end">1.5</text><text class="tk" transform="translate(59.0,84.89) scale(1,1.05)" text-anchor="end">2</text><text class="tk" transform="translate(59.0,25.85) scale(1,1.05)" text-anchor="end">2.5</text><text class="w" x="327.6" y="236.6" text-anchor="end">Debye</text><text class="w" x="327.0" y="253.7" text-anchor="end">Theory</text><text x="271.9" y="270.4" class="it">N</text><text transform="translate(283.0,270.4) scale(1.15,1)">=</text><text x="327.3" y="270.4" text-anchor="end">1024</text><text x="327.3" y="287.3" text-anchor="end">2048</text><text x="327.3" y="304.1" text-anchor="end">4096</text></g><g class="t20"><text transform="translate(238.6,361.7) scale(1,1.03)" text-anchor="middle">Q</text><text class="yl" transform="translate(29.7,210.6) rotate(-90)" x="0" y="0">S<tspan dx="-1.0">(Q)Q</tspan><tspan class="sup" dy="-10.5">2</tspan><tspan dy="10.5" dx="-0.9">/N</tspan></text></g></svg>
</body></html>
